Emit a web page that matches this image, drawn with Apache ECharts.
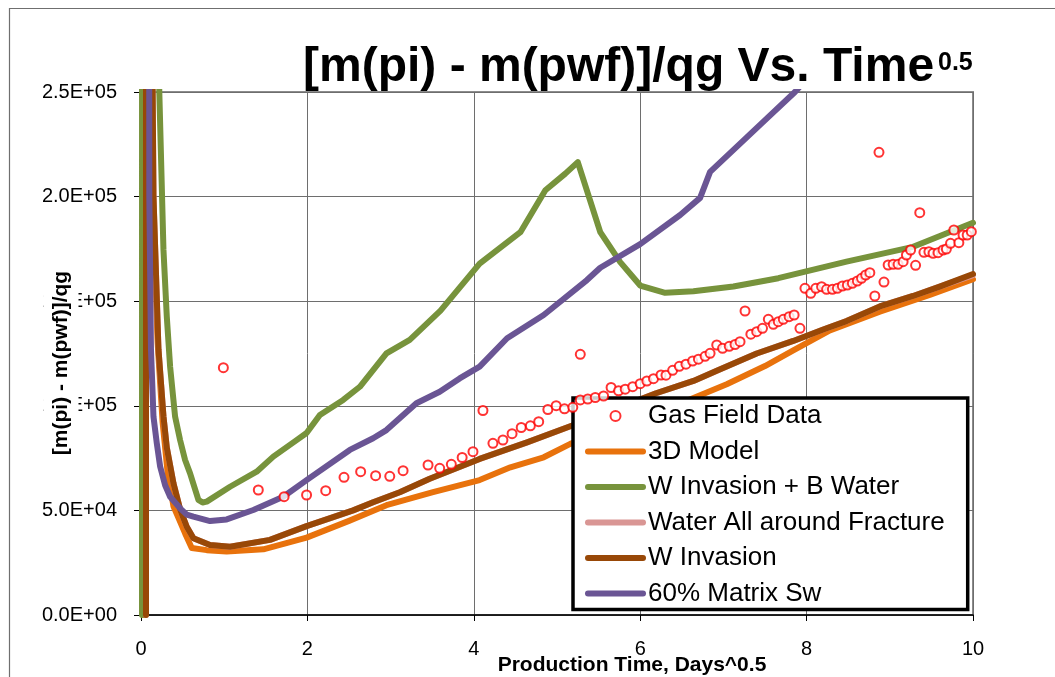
<!DOCTYPE html>
<html>
<head>
<meta charset="utf-8">
<script src="https://cdn.jsdelivr.net/npm/echarts@6/dist/echarts.min.js"></script>
<style>
  html, body { margin: 0; padding: 0; background: #ffffff; }
  #chart { width: 1055px; height: 677px; }
</style>
</head>
<body>
<div id="chart"></div>
<script>
// Axis setup
const xMin = 0, xMax = 10, xStep = 2;
const yMin = 0, yMax = 250000, yStep = 50000;

// Series names (legend order)
const seriesNames = [
  'Gas Field Data',
  '3D Model',
  'W Invasion + B Water',
  'Water All around Fracture',
  'W Invasion',
  '60% Matrix Sw'
];

// Measured field points: [sqrt(days), (m(pi)-m(pwf))/qg]
const gasFieldData = [
  [0.99,118200],[1.41,59750],[1.72,56550],[1.99,57360],[2.22,59420],[2.44,65820],
  [2.64,68500],[2.82,66590],[2.99,66300],[3.15,68980],[3.45,71700],[3.59,70120],
  [3.73,72030],[3.86,75290],[3.99,78060],[4.11,97750],[4.23,82070],[4.35,83650],
  [4.46,86660],[4.57,89630],[4.68,90440],[4.78,92400],[4.89,98230],[4.99,100050],
  [5.09,98560],[5.19,99280],[5.28,124610],[5.28,102800],[5.37,103250],[5.46,103970],
  [5.56,104680],[5.65,108750],[5.74,107170],[5.82,107930],[5.91,109130],[6.00,110560],
  [6.08,111850],[6.16,112950],[6.25,114720],[6.31,114620],[6.39,116970],[6.47,118880],
  [6.55,119880],[6.63,121410],[6.70,122270],[6.78,123660],[6.84,125090],[6.92,129060],
  [6.99,127480],[7.07,128440],[7.14,129300],[7.20,130640],[7.26,145310],[7.33,134220],
  [7.40,135420],[7.47,137040],[7.54,141340],[7.60,138950],[7.66,140200],[7.72,141340],
  [7.79,142590],[7.85,143400],[7.92,137040],[7.98,156160],[8.05,153770],[8.11,156160],
  [8.18,156930],[8.24,155690],[8.31,155690],[8.37,156160],[8.43,157260],[8.49,157740],
  [8.55,158550],[8.61,159650],[8.66,160940],[8.71,162520],[8.76,163620],[8.82,152480],
  [8.87,221170],[8.93,159170],[8.98,167300],[9.04,167630],[9.10,167630],[9.16,168880],
  [9.20,172080],[9.25,174470],[9.31,167160],[9.36,192300],[9.41,173370],[9.47,173660],
  [9.52,172890],[9.58,173180],[9.64,174470],[9.68,174950],[9.73,177670],[9.77,184030],
  [9.83,177960],[9.88,181640],[9.93,181640],[9.98,183220]
];

// Simulation curves
const model3D = [
  [0.030,0],[0.031,700000],[0.12,250000],[0.15,190000],[0.20,130000],[0.26,92000],
  [0.32,68000],[0.39,52000],[0.45,46500],[0.53,39000],[0.61,32000],[0.79,31000],
  [1.03,30300],[1.47,31400],[1.99,37000],[2.50,45000],[2.95,52500],[3.51,58700],
  [4.07,64500],[4.44,70600],[4.84,75400],[5.16,81800],[5.60,88500],[6.10,96000],
  [6.56,102400],[7.04,110300],[7.50,119000],[7.84,126500],[8.28,136000],[8.88,145000],
  [9.48,153000],[10.00,160500]
];

const wInvasionBWater = [
  [0.012,0],[0.013,700000],[0.22,250000],[0.27,174500],[0.31,142600],[0.35,118700],
  [0.41,94800],[0.47,83600],[0.53,74100],[0.59,67700],[0.69,55000],[0.74,53800],
  [0.79,54200],[1.07,61300],[1.39,68500],[1.59,75700],[1.87,83600],[1.99,87000],
  [2.15,95600],[2.43,102800],[2.63,109100],[2.95,125100],[3.23,131500],[3.60,145500],
  [4.07,168000],[4.56,183000],[4.86,203000],[5.10,211000],[5.25,216500],[5.52,183000],
  [5.76,168700],[6.00,157500],[6.30,154000],[6.64,154800],[7.12,157000],[7.66,161000],
  [8.48,168900],[9.28,176000],[10.00,187500]
];

const waterAllAround = [
  [0.060,0],[0.061,700000],[0.14,250000],[0.15,200000],[0.21,127000],[0.27,95000],
  [0.31,80000],[0.39,63000],[0.47,50500],[0.55,42200],[0.63,36700],[0.83,33500],
  [1.07,32600],[1.55,35900],[1.99,42500],[2.55,50000],[2.79,53900],[3.11,58700],
  [3.47,65100],[4.07,74600],[4.64,82500],[5.20,90800],[5.70,98500],[6.19,106000],
  [6.64,111900],[6.92,116700],[7.40,125000],[7.84,131000],[8.20,136500],[8.48,140500],
  [8.88,147500],[9.28,152500],[9.60,157000],[10.00,162500]
];

const wInvasion = [
  [0.060,0],[0.061,700000],[0.14,250000],[0.15,200000],[0.21,127000],[0.27,95000],
  [0.31,80000],[0.39,63000],[0.47,50500],[0.55,42200],[0.63,36700],[0.83,33500],
  [1.07,32600],[1.55,35900],[1.99,42500],[2.55,50000],[2.79,53900],[3.11,58700],
  [3.47,65100],[4.07,74600],[4.64,82500],[5.20,90800],[5.70,98500],[6.19,106000],
  [6.64,111900],[6.92,116700],[7.40,125000],[7.84,131000],[8.20,136500],[8.48,140500],
  [8.88,147500],[9.28,152500],[9.60,157000],[10.00,163000]
];

const matrixSw60 = [
  [0.088,700000],[0.10,200000],[0.12,126700],[0.15,94800],[0.19,82000],[0.23,71000],
  [0.29,62000],[0.35,56500],[0.47,51000],[0.55,48000],[0.63,47000],[0.83,44900],
  [1.03,45700],[1.35,50200],[1.71,56500],[1.99,64500],[2.51,78900],[2.79,84500],
  [2.95,88400],[3.31,101200],[3.59,106700],[3.83,113100],[4.07,118700],[4.40,132300],
  [4.84,143400],[5.36,160100],[5.52,166000],[6.00,177300],[6.48,191200],[6.72,199400],
  [6.84,211800],[7.44,234300],[7.86,250000],[7.95,254000]
];

const seriesColors = {
  field: '#ff0000',
  model: '#e8720c',
  bWater: '#77933c',
  allAround: '#d99694',
  invasion: '#984807',
  matrix: '#6a5594'
};

const FONT = '"Liberation Sans", Arial, sans-serif';

function sciLabel(v) {
  const parts = Number(v).toExponential(1).split('e');
  const sign = parts[1][0] === '-' ? '-' : '+';
  const exp = String(Math.abs(parseInt(parts[1], 10))).padStart(2, '0');
  return parts[0] + 'E' + sign + exp;
}

function lineSeries(name, data, color) {
  return {
    name: name,
    type: 'line',
    data: data,
    symbol: 'none',
    showSymbol: false,
    smooth: false,
    clip: true,
    animation: false,
    lineStyle: { color: color, width: 6, cap: 'round', join: 'round' },
    itemStyle: { color: color }
  };
}

// Legend entries: line entries show only the stroke, no marker
const legendData = seriesNames.map(function (name, i) {
  return i === 0 ? { name: name } : { name: name, itemStyle: { opacity: 0 } };
});

const chart = echarts.init(document.getElementById('chart'), null, { renderer: 'canvas' });

chart.setOption({
  backgroundColor: '#ffffff',
  animation: false,
  grid: {
    left: 141, right: 82, top: 92, bottom: 62,
    show: true, borderColor: '#8c8c8c', borderWidth: 2, backgroundColor: '#ffffff'
  },
  xAxis: {
    type: 'value', min: xMin, max: xMax, interval: xStep,
    axisLine: { show: true, onZero: false, lineStyle: { color: '#000', width: 1.5 } },
    axisTick: { show: true, length: 6, lineStyle: { color: '#000' } },
    axisLabel: { margin: 24, fontSize: 20, fontFamily: FONT, color: '#000' },
    splitLine: { show: true, lineStyle: { color: '#6e6e6e', width: 1 } }
  },
  yAxis: {
    type: 'value', min: yMin, max: yMax, interval: yStep,
    axisLine: { show: true, onZero: false, lineStyle: { color: '#000', width: 1.5 } },
    axisTick: { show: true, length: 7, lineStyle: { color: '#000' } },
    axisLabel: { margin: 24, fontSize: 20, fontFamily: FONT, color: '#000', formatter: sciLabel },
    splitLine: { show: true, lineStyle: { color: '#6e6e6e', width: 1 } }
  },
  legend: {
    orient: 'vertical',
    left: 573, top: 398,
    backgroundColor: '#ffffff',
    borderColor: '#000000', borderWidth: 3.5,
    padding: [5, 23, 3, 12],
    itemWidth: 55, itemHeight: 10, itemGap: 9.5,
    textStyle: { fontSize: 26, fontFamily: FONT, color: '#000' },
    lineStyle: { width: 'inherit' },
    data: legendData
  },
  graphic: [
    {
      type: 'rect', silent: true, z: -10,
      shape: { x: 9.5, y: 8.5, width: 1100, height: 700 },
      style: { fill: 'none', stroke: '#6f6f6f', lineWidth: 1.2 }
    },
    {
      type: 'text', silent: true, z: 50, x: 303, y: 68,
      style: {
        text: '[m(pi) - m(pwf)]/qg Vs. Time',
        font: 'bold 48px ' + FONT, fill: '#000',
        align: 'left', verticalAlign: 'middle'
      }
    },
    {
      type: 'text', silent: true, z: 50, x: 938, y: 63,
      style: {
        text: '0.5', font: 'bold 25px ' + FONT, fill: '#000',
        align: 'left', verticalAlign: 'middle'
      }
    },
    {
      type: 'text', silent: true, z: 50, x: 632, y: 665,
      style: {
        text: 'Production Time, Days^0.5', font: 'bold 21px ' + FONT, fill: '#000',
        align: 'center', verticalAlign: 'middle'
      }
    },
    {
      type: 'text', silent: true, z: 100, x: 61, y: 363, rotation: Math.PI / 2,
      style: {
        text: '[m(pi) - m(pwf)]/qg', font: 'bold 21px ' + FONT, fill: '#000',
        align: 'center', verticalAlign: 'middle', lineHeight: 24,
        backgroundColor: '#ffffff', padding: [8, 35, 3, 35]
      }
    }
  ],
  series: [
    {
      name: seriesNames[0],
      type: 'scatter',
      data: gasFieldData,
      symbol: 'emptyCircle',
      symbolSize: 9,
      z: 5,
      itemStyle: { color: seriesColors.field, borderColor: seriesColors.field, borderWidth: 1.6 }
    },
    lineSeries(seriesNames[1], model3D, seriesColors.model),
    lineSeries(seriesNames[2], wInvasionBWater, seriesColors.bWater),
    lineSeries(seriesNames[3], waterAllAround, seriesColors.allAround),
    lineSeries(seriesNames[4], wInvasion, seriesColors.invasion),
    lineSeries(seriesNames[5], matrixSw60, seriesColors.matrix)
  ]
});
</script>
</body>
</html>
